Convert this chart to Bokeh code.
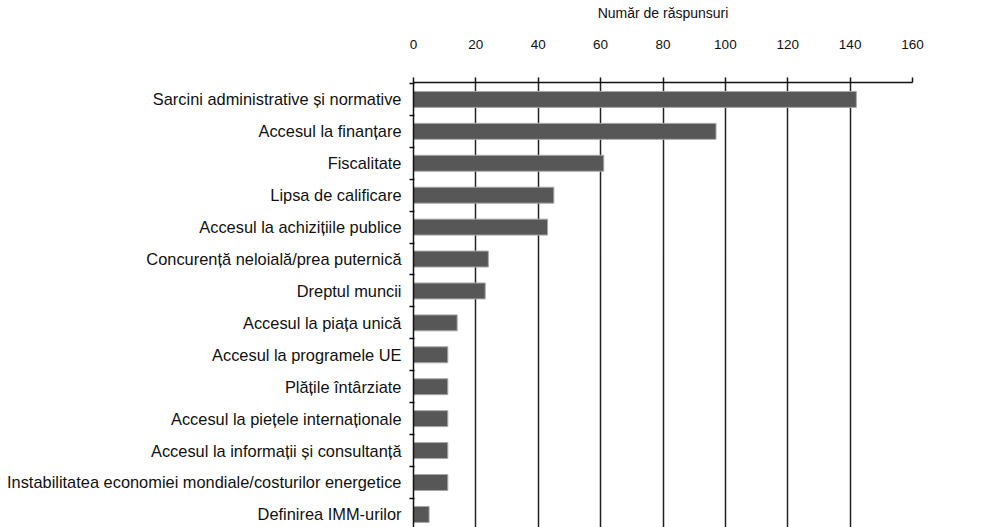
from bokeh.plotting import figure
from bokeh.models import ColumnDataSource, Range1d, FixedTicker, LinearAxis, Grid
from bokeh.embed import file_html
from bokeh.resources import INLINE

categories = [
    "Sarcini administrative și normative",
    "Accesul la finanțare",
    "Fiscalitate",
    "Lipsa de calificare",
    "Accesul la achizițiile publice",
    "Concurență neloială/prea puternică",
    "Dreptul muncii",
    "Accesul la piața unică",
    "Accesul la programele UE",
    "Plățile întârziate",
    "Accesul la piețele internaționale",
    "Accesul la informații și consultanță",
    "Instabilitatea economiei mondiale/costurilor energetice",
    "Definirea IMM-urilor",
]
values = [142, 97, 61, 45, 43, 24, 23, 14, 11, 11, 11, 11, 11, 5]
x_ticks = [0, 20, 40, 60, 80, 100, 120, 140, 160]
axis_title = "Număr de răspunsuri"

FONT = "Liberation Sans"

rows = list(range(len(categories)))
src = ColumnDataSource(dict(y=rows, v=values))

p = figure(width=997, height=527, output_backend="svg", toolbar_location=None,
           x_range=Range1d(0, 160), y_range=Range1d(13.41, -0.53),
           x_axis_location=None, y_axis_location=None,
           min_border_left=413, min_border_right=85, min_border_top=82, min_border_bottom=0)
p.outline_line_color = None
p.background_fill_color = "white"
p.border_fill_color = "white"

p.hbar(y="y", left=0, right="v", height=0.5, source=src,
       fill_color="#575757", line_color="#a8a8a8", line_width=1)

# top axis
xa = LinearAxis(ticker=FixedTicker(ticks=x_ticks), axis_label=axis_title)
xa.axis_line_color = "#111111"
xa.axis_line_width = 1.5
xa.major_tick_out = 5
xa.major_tick_in = 0
xa.major_tick_line_color = "#111111"
xa.major_tick_line_width = 1.5
xa.minor_tick_out = 0
xa.minor_tick_in = 0
xa.major_label_standoff = 29
xa.major_label_text_font = FONT
xa.major_label_text_font_size = "13.5px"
xa.major_label_text_color = "#111111"
xa.axis_label_standoff = 16
xa.axis_label_text_font = FONT
xa.axis_label_text_font_size = "14px"
xa.axis_label_text_font_style = "normal"
xa.axis_label_text_color = "#111111"
p.add_layout(xa, "above")

# left axis
ya = LinearAxis(ticker=FixedTicker(ticks=rows, minor_ticks=[r - 0.5 for r in rows] + [len(rows) - 0.5]))
ya.major_label_overrides = {r: c for r, c in zip(rows, categories)}
ya.axis_line_color = "#111111"
ya.axis_line_width = 1.5
ya.major_tick_out = 0
ya.major_tick_in = 0
ya.minor_tick_out = 4
ya.minor_tick_in = 1
ya.minor_tick_line_color = "#111111"
ya.minor_tick_line_width = 1.5
ya.major_label_standoff = 8
ya.major_label_text_font = FONT
ya.major_label_text_font_size = "16.4px"
ya.major_label_text_color = "#111111"
p.add_layout(ya, "left")

p.xgrid.visible = False
p.ygrid.visible = False
g = Grid(dimension=0, ticker=FixedTicker(ticks=x_ticks[1:]))
g.grid_line_color = "#222222"
g.grid_line_width = 1.5
p.add_layout(g)

open("out.html", "w").write(file_html(p, INLINE))
